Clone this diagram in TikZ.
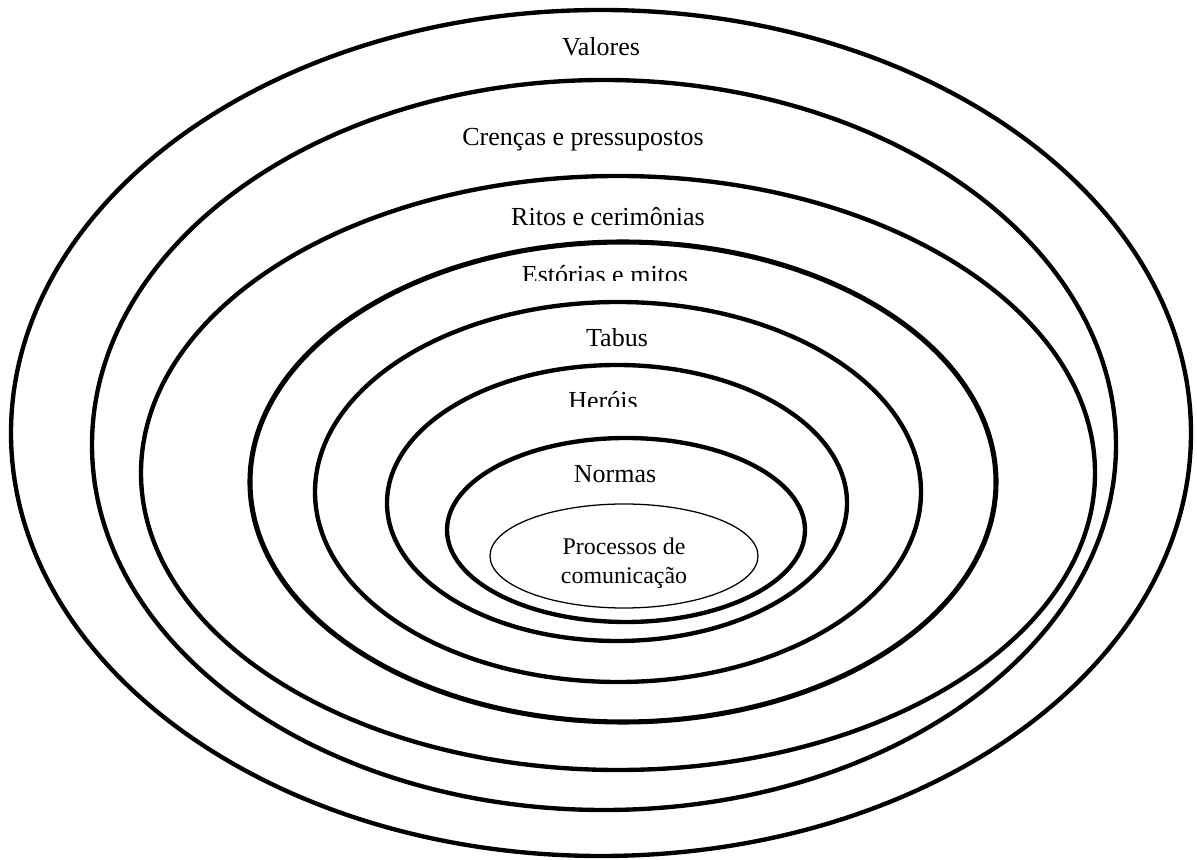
\documentclass[tikz,border=0pt]{standalone}
\usepackage{fontspec}
\setmainfont{Liberation Serif}
\usepackage{tikz}
\usetikzlibrary{positioning}

\tikzset{
  ring/.style={draw=black, line width=3.1pt},
  ringlabel/.style={anchor=base, inner sep=0pt, font=\fontsize{18.5}{22}\selectfont}
}

\begin{document}
\begin{tikzpicture}
    \useasboundingbox[fill=white] (0,0) rectangle (29.925,21.5);
    % Nested layers of culture
    \draw[ring] (15.025,10.675) ellipse [x radius=14.75, y radius=10.575];
    \draw[ring] (15.10,10.375) ellipse [x radius=12.8, y radius=9.125];
    \draw[ring] (15.45,9.675) ellipse [x radius=11.925, y radius=7.425];
    \draw[ring, line width=3.6pt] (15.575,9.45) ellipse [x radius=9.325, y radius=6.0];
    \draw[ring] (15.45,9.2) ellipse [x radius=7.575, y radius=4.75];
    \draw[ring] (15.425,8.925) ellipse [x radius=5.75, y radius=3.45];
    \draw[ring] (15.65,8.25) ellipse [x radius=4.475, y radius=2.3];
    \draw[black, line width=0.9pt] (15.6,7.6) ellipse [x radius=3.35, y radius=1.3];

    % Labels
    \node[ringlabel] (valores) at (15.025,20.1) {Valores};
    \node[ringlabel] (crencas) at (14.575,17.85) {Crenças e pressupostos};
    \node[ringlabel] (ritos) at (15.2,15.85) {Ritos e cerimônias};
    \begin{scope}
        \clip (10,14.475) rectangle (20,16);
        \node[ringlabel] (estorias) at (15.125,14.4) {Estórias e mitos};
    \end{scope}
    \node[ringlabel] (tabus) at (15.425,12.825) {Tabus};
    \begin{scope}
        \clip (12,11.325) rectangle (18,12.5);
        \node[ringlabel] (herois) at (15.075,11.25) {Heróis};
    \end{scope}
    \node[ringlabel] (normas) at (15.375,9.425) {Normas};
    \node[ringlabel, align=center, font=\fontsize{17}{21}\selectfont] (processos) at (15.6,6.9) {Processos de\\comunicação};
\end{tikzpicture}
\end{document}
